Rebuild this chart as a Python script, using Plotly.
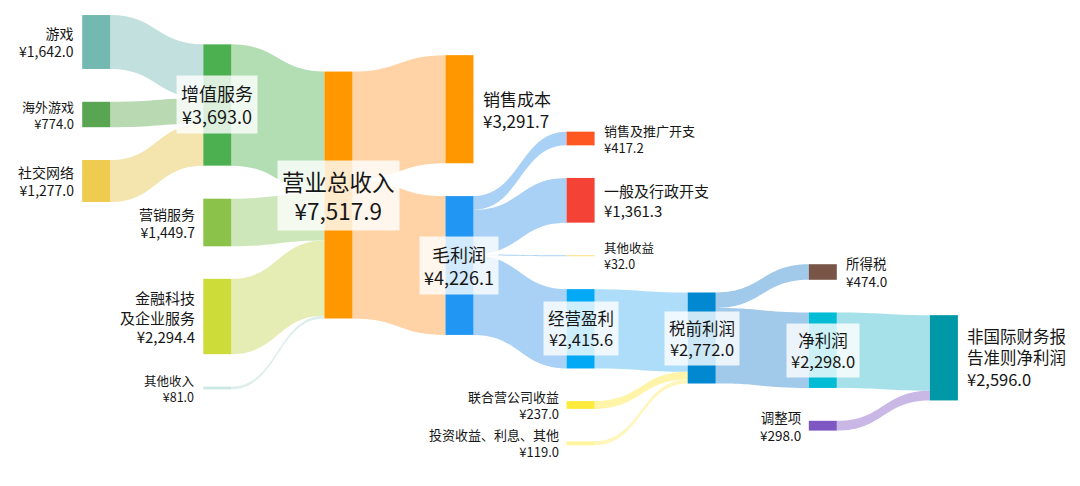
import plotly.graph_objects as go

# ---------------- data ----------------
node_names = ["游戏", "海外游戏", "社交网络", "增值服务", "营销服务", "金融科技及企业服务", "其他收入",
              "营业总收入", "销售成本", "毛利润", "销售及推广开支", "一般及行政开支", "其他收益",
              "经营盈利", "联合营公司收益", "投资收益、利息、其他", "税前利润", "所得税", "净利润",
              "调整项", "非国际财务报告准则净利润"]
node_display = ["游戏", "海外游戏", "社交网络", "增值服务", "营销服务", "金融科技<br>及企业服务", "其他收入",
                "营业总收入", "销售成本", "毛利润", "销售及推广开支", "一般及行政开支", "其他收益",
                "经营盈利", "联合营公司收益", "投资收益、利息、其他", "税前利润", "所得税", "净利润",
                "调整项", "非国际财务报<br>告准则净利润"]
node_values = [1642.0, 774.0, 1277.0, 3693.0, 1449.7, 2294.4, 81.0,
               7517.9, 3291.7, 4226.1, 417.2, 1361.3, 32.0,
               2415.6, 237.0, 119.0, 2772.0, 474.0, 2298.0,
               298.0, 2596.0]

link_source = [0, 1, 2, 3, 4, 5, 6, 7, 7, 9, 9, 9, 9, 13, 14, 15, 16, 16, 18, 19]
link_target = [3, 3, 3, 7, 7, 7, 7, 8, 9, 10, 11, 12, 13, 16, 16, 16, 17, 18, 20, 20]
link_value = [1642.0, 774.0, 1277.0, 3693.0, 1449.7, 2294.4, 81.0, 3291.7, 4226.1,
              417.2, 1361.3, 32.0, 2415.6, 2415.6, 237.0, 119.0, 474.0, 2298.0, 2298.0, 298.0]

# ---------------- layout / style ----------------
W, H = 1080, 486
col_x = [96.2 + 121.1 * k for k in range(8)]
node_col = [0, 0, 0, 1, 1, 1, 1, 2, 3, 3, 4, 4, 4, 4, 4, 4, 5, 6, 6, 6, 7]
node_cy = [42, 114.5, 181, 105, 222.5, 316.5, 388, 195, 109.2, 265.5, 138.5, 200.3, 255.7,
           328.8, 405, 443.3, 338, 272, 350.2, 425.7, 357.8]
label_mode = ["L", "L", "L", "C", "L", "L", "L", "C", "R", "C", "R", "R", "R",
              "C", "L", "L", "C", "R", "C", "L", "R"]
label_size = [14, 13, 14, 18, 14, 15, 12.5, 22.5, 17, 18, 13, 15, 12.5,
              16.5, 13, 13, 16.5, 13.5, 16.5, 13.5, 16.5]

node_colors = ["#74B9B1", "#5AA552", "#EFCB4F", "#4CAF50", "#8BC34A", "#CDDC39", "#C9E8E4",
               "#FF9800", "#FF9800", "#2196F3", "#FF5722", "#F44336", "#FFE082",
               "#03A9F4", "#FFEB3B", "#FFF59D", "#0288D1", "#795548", "#00BCD4",
               "#7E57C2", "#0097A7"]
link_colors = ["#C2E0DD", "#B8D9B2", "#F4E4AE", "#B3DEB3", "#CDE6BA", "#E6EDB4", "#DDEFEC",
               "#FFD3A6", "#FFD3A6", "#A9D1F6", "#A9D1F6", "#A9D1F6", "#A9D1F6",
               "#ADDDF8", "#FFF4A8", "#FFF6BC", "#A0C9EA", "#A0C9EA", "#A6E1EA", "#C9B8E6"]

THICK = 28
node_x = [col_x[c] / W for c in node_col]
node_y = [cy / H for cy in node_cy]

fig = go.Figure(go.Sankey(
    arrangement="fixed",
    node=dict(
        label=[""] * len(node_names),
        customdata=node_names,
        hovertemplate="%{customdata}: ¥%{value:,.1f}<extra></extra>",
        x=node_x, y=node_y,
        color=node_colors,
        thickness=THICK,
        pad=27.2,
        line=dict(width=0),
    ),
    link=dict(
        source=link_source, target=link_target, value=link_value,
        color=link_colors,
        hovertemplate="%{source.customdata} → %{target.customdata}: ¥%{value:,.1f}<extra></extra>",
    ),
))

FONT = "Noto Sans CJK SC, sans-serif"
annotations = []
for i, name in enumerate(node_display):
    txt = f"{name}<br>¥{node_values[i]:,.1f}"
    cx = col_x[node_col[i]]
    y = 1 - node_cy[i] / H
    mode = label_mode[i]
    a = dict(text=txt, xref="paper", yref="paper", y=y, yanchor="middle", showarrow=False,
             font=dict(family=FONT, size=label_size[i], color="#161616"))
    if mode == "L":
        a.update(x=(cx - THICK / 2 - 6) / W, xanchor="right", align="right")
    elif mode == "R":
        a.update(x=(cx + THICK / 2 + 7) / W, xanchor="left", align="left")
    else:
        a.update(x=cx / W, xanchor="center", align="center",
                 bgcolor="rgba(255,255,255,0.8)", borderpad=4)
    annotations.append(a)

fig.update_layout(
    width=W, height=H,
    margin=dict(l=0, r=0, t=0, b=0),
    paper_bgcolor="white",
    font=dict(family=FONT),
    annotations=annotations,
)

fig.write_html("out.html", config={"displayModeBar": False},
               post_script="document.body.style.margin='0';document.body.style.overflow='hidden';")
